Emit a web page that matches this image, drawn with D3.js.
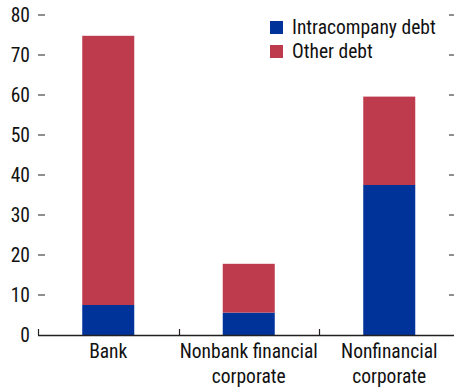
<!DOCTYPE html>
<html><head><meta charset="utf-8">
<script src="https://cdn.jsdelivr.net/npm/d3@7"></script>
<style>
body{margin:0;background:#fff;}
svg text{font-family:"Roboto Condensed","Arial Narrow",sans-serif;fill:#111;}
</style></head><body>
<svg id="c" width="454" height="390"></svg>
<script>
const categories = ["Bank", "Nonbank financial|corporate", "Nonfinancial|corporate"];
const intracompany = [7.5, 5.6, 37.5];
const other = [67.3, 12.2, 22.1];
const seriesNames = ["Intracompany debt", "Other debt"];
const yTicks = [0, 10, 20, 30, 40, 50, 60, 70, 80];
const colors = ["#003399", "#BD3B4C"];

const svg = d3.select("#c");
const x0 = 38, x1 = 459.5, yTop = 15, yBot = 335;
const x = d3.scaleBand().domain(categories).range([x0, x1]).paddingInner(0).paddingOuter(0);
const y = d3.scaleLinear().domain([0, 80]).range([yBot, yTop]);
const barW = 52;
const fs = 19.5;

const data = categories.map((c, i) => ({cat: c, Intracompany: intracompany[i], Other: other[i]}));
const stack = d3.stack().keys(["Intracompany", "Other"])(data);

svg.append("g").selectAll("g").data(stack).join("g")
  .attr("fill", (d, i) => colors[i])
  .selectAll("rect").data(d => d).join("rect")
  .attr("x", d => x(d.data.cat) + x.bandwidth()/2 - barW/2)
  .attr("width", barW)
  .attr("y", d => y(d[1]))
  .attr("height", d => y(d[0]) - y(d[1]));

// Left y axis (ticks inward)
const gl = svg.append("g").attr("transform", `translate(${x0},0)`);
yTicks.forEach(t => {
  if (t > 0) gl.append("line").attr("x1", 0).attr("x2", 7).attr("y1", y(t)).attr("y2", y(t)).attr("stroke", "#231f20").attr("stroke-width", 1);
  gl.append("text").attr("x", -8).attr("y", y(t)).attr("dy", "0.36em").attr("text-anchor", "end").attr("font-size", fs).text(t);
});
// right axis ticks
yTicks.filter(t => t > 0).forEach(t => {
  svg.append("line").attr("x1", 449).attr("x2", 454).attr("y1", y(t)).attr("y2", y(t)).attr("stroke", "#231f20").attr("stroke-width", 1);
});

// baseline
svg.append("line").attr("x1", x0).attr("x2", 454).attr("y1", yBot + 0.5).attr("y2", yBot + 0.5).attr("stroke", "#231f20").attr("stroke-width", 1.5);
// category boundary ticks
categories.forEach(c => {
  const bx = Math.round(x(c)) + 0.5;
  svg.append("line").attr("x1", bx).attr("x2", bx).attr("y1", yBot).attr("y2", yBot - 6).attr("stroke", "#231f20").attr("stroke-width", 1.2);
});

// category labels
categories.forEach(c => {
  const lines = c.split("|");
  const t = svg.append("text").attr("text-anchor", "middle").attr("font-size", fs)
    .attr("x", x(c) + x.bandwidth()/2).attr("y", 358);
  lines.forEach((l, i) => t.append("tspan").attr("x", x(c) + x.bandwidth()/2).attr("dy", i === 0 ? 0 : 25).text(l));
});

// legend
seriesNames.forEach((n, i) => {
  svg.append("rect").attr("x", 270).attr("y", 21 + i*24).attr("width", 13).attr("height", 13).attr("fill", colors[i]);
  svg.append("text").attr("x", 292).attr("y", 33.5 + i*24).attr("font-size", fs).text(n);
});
</script>
</body></html>
